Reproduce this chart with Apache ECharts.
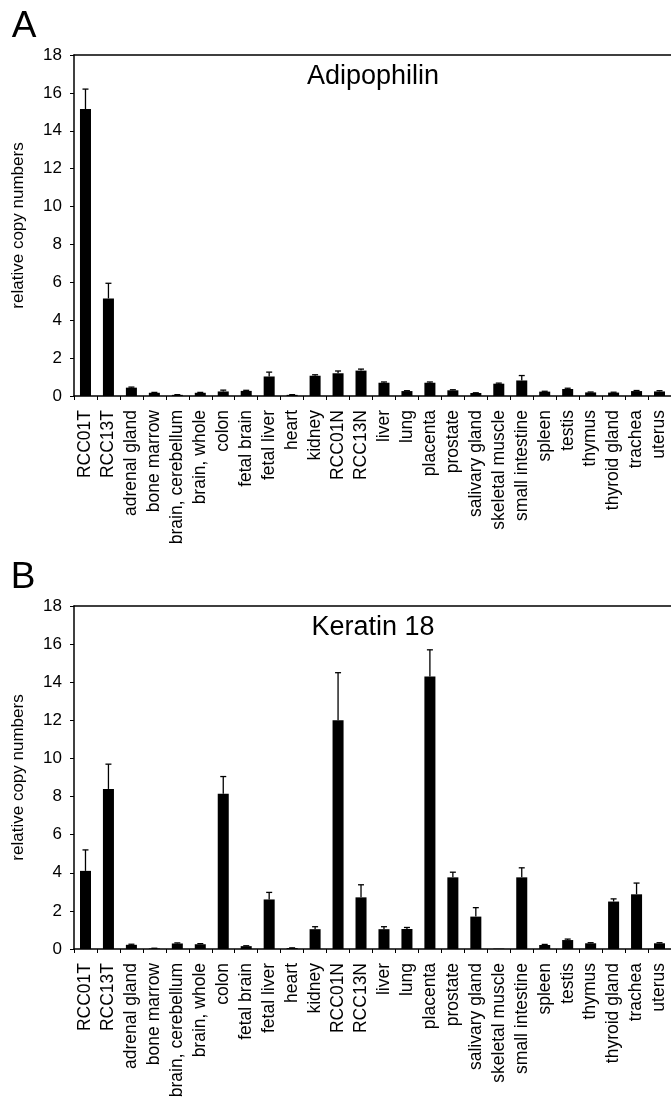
<!DOCTYPE html>
<html><head><meta charset="utf-8">
<script src="https://cdn.jsdelivr.net/npm/echarts@6/dist/echarts.min.js"></script>
<style>html,body{margin:0;padding:0;background:#fff}#c{width:671px;height:1101px}</style>
</head><body><div id="c"></div>
<script>
const categories = ['RCC01T','RCC13T','adrenal gland','bone marrow','brain, cerebellum','brain, whole','colon','fetal brain','fetal liver','heart','kidney','RCC01N','RCC13N','liver','lung','placenta','prostate','salivary gland','skeletal muscle','small intestine','spleen','testis','thymus','thyroid gland','trachea','uterus'];
const adipophilinValues = [15.15, 5.15, 0.44, 0.17, 0.06, 0.17, 0.24, 0.27, 1.03, 0.06, 1.07, 1.2, 1.34, 0.7, 0.26, 0.7, 0.3, 0.16, 0.65, 0.82, 0.23, 0.37, 0.19, 0.18, 0.26, 0.24];
const adipophilinErrors = [1.05, 0.8, 0.03, 0.02, 0.01, 0.02, 0.07, 0.03, 0.23, 0.01, 0.05, 0.12, 0.08, 0.04, 0.02, 0.04, 0.03, 0.01, 0.03, 0.26, 0.02, 0.04, 0.02, 0.02, 0.03, 0.04];
const keratinValues = [4.1, 8.4, 0.22, 0.03, 0.29, 0.25, 8.15, 0.15, 2.6, 0.05, 1.04, 12.0, 2.71, 1.04, 1.05, 14.3, 3.76, 1.7, 0.02, 3.76, 0.21, 0.47, 0.3, 2.49, 2.87, 0.3];
const keratinErrors = [1.1, 1.3, 0.03, 0.01, 0.03, 0.03, 0.9, 0.02, 0.37, 0.01, 0.13, 2.5, 0.66, 0.13, 0.08, 1.4, 0.27, 0.47, 0, 0.5, 0.03, 0.05, 0.03, 0.14, 0.59, 0.03];
const yTicks = {min: 0, max: 18, interval: 2};
const panelTitles = ['Adipophilin', 'Keratin 18'];
const panelLetters = ['A', 'B'];
const yName = 'relative copy numbers';

const FONT = 'Arial, "Liberation Sans", Helvetica, sans-serif';
const chart = echarts.init(document.getElementById('c'), null, {renderer: 'canvas'});

const grids = [
  {left: 74, right: 0, top: 55, height: 341},
  {left: 74, right: 0, top: 606, height: 343}
];

function xAxisBottom(gi) {
  return {
    type: 'category', gridIndex: gi, data: categories, position: 'bottom',
    axisLine: {show: true, lineStyle: {color: '#000', width: 1.5}},
    axisTick: {show: true, length: 4, lineStyle: {color: '#000', width: 1}},
    axisLabel: {rotate: 90, interval: 0, color: '#000', fontSize: 17.5, fontFamily: FONT, margin: 14}
  };
}
function xAxisTop(gi) {
  return {
    type: 'category', gridIndex: gi, data: categories, position: 'top',
    axisLine: {show: true, lineStyle: {color: '#000', width: 1.5}},
    axisTick: {show: false}, axisLabel: {show: false}
  };
}
function yAxis(gi) {
  return {
    type: 'value', gridIndex: gi, min: yTicks.min, max: yTicks.max, interval: yTicks.interval,
    name: yName, nameLocation: 'middle', nameGap: 47, nameRotate: 90,
    nameTextStyle: {color: '#000', fontSize: 17, fontFamily: FONT},
    axisLine: {show: true, lineStyle: {color: '#000', width: 1.5}},
    axisTick: {show: true, length: 4, lineStyle: {color: '#000', width: 1}},
    axisLabel: {color: '#000', fontSize: 17, fontFamily: FONT, margin: 12},
    splitLine: {show: false}
  };
}
function errItem(params, api) {
  const x = api.value(0), v = api.value(1), e = api.value(2);
  if (!(e > 0)) return null;
  const p0 = api.coord([x, v]);
  const p1 = api.coord([x, v + e]);
  const cap = 3;
  return {type: 'group', children: [
    {type: 'line', shape: {x1: p0[0], y1: p0[1], x2: p1[0], y2: p1[1]}, style: {stroke: '#000', lineWidth: 1.3}},
    {type: 'line', shape: {x1: p1[0] - cap, y1: p1[1], x2: p1[0] + cap, y2: p1[1]}, style: {stroke: '#000', lineWidth: 1.3}}
  ]};
}
function barSeries(gi, vals) {
  return {type: 'bar', xAxisIndex: gi, yAxisIndex: gi, data: vals, barWidth: '48%',
    itemStyle: {color: '#000'}, silent: true, animation: false};
}
function errSeries(gi, vals, errs) {
  return {type: 'custom', xAxisIndex: gi, yAxisIndex: gi, renderItem: errItem,
    data: categories.map((c, i) => [i, vals[i], errs[i]]), silent: true, animation: false, z: 3};
}

chart.setOption({
  animation: false,
  grid: grids,
  xAxis: [xAxisBottom(0), xAxisBottom(1), xAxisTop(0), xAxisTop(1)],
  yAxis: [yAxis(0), yAxis(1)],
  series: [
    barSeries(0, adipophilinValues), errSeries(0, adipophilinValues, adipophilinErrors),
    barSeries(1, keratinValues), errSeries(1, keratinValues, keratinErrors)
  ],
  graphic: [
    {type: 'text', x: 24, y: 27, style: {text: panelLetters[0], font: '37px ' + FONT, fill: '#000', align: 'center', verticalAlign: 'middle'}},
    {type: 'text', x: 23, y: 578, style: {text: panelLetters[1], font: '37px ' + FONT, fill: '#000', align: 'center', verticalAlign: 'middle'}},
    {type: 'text', x: 373, y: 77, style: {text: panelTitles[0], font: '27px ' + FONT, fill: '#000', align: 'center', verticalAlign: 'middle'}},
    {type: 'text', x: 373, y: 628, style: {text: panelTitles[1], font: '27px ' + FONT, fill: '#000', align: 'center', verticalAlign: 'middle'}}
  ]
});
</script></body></html>
